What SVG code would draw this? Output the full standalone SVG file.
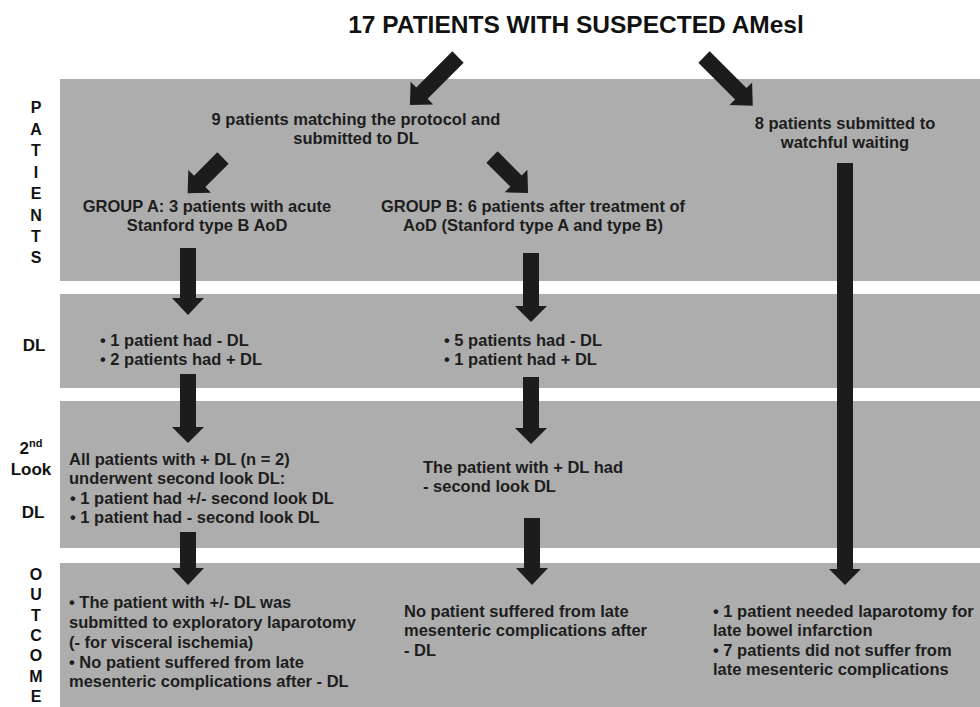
<svg xmlns="http://www.w3.org/2000/svg" width="980" height="707" viewBox="0 0 980 707">
<style>
.band{fill:#adadad}
.t{font-family:"Liberation Sans",Arial,Helvetica,sans-serif;font-weight:bold;font-size:16.5px;fill:#1d1d1d}
.c{text-anchor:middle}
.lab{font-family:"Liberation Sans",Arial,Helvetica,sans-serif;font-weight:bold;font-size:16px;fill:#111;text-anchor:middle}
.title{font-family:"Liberation Sans",Arial,Helvetica,sans-serif;font-weight:bold;font-size:24.5px;fill:#111;text-anchor:middle}
.arr{fill:#1c1c1c}
</style>
<rect width="980" height="707" fill="#ffffff"/>
<g id="bands">
<rect class="band" x="60" y="79" width="920" height="202"/>
<rect class="band" x="60" y="294" width="920" height="94"/>
<rect class="band" x="60" y="401" width="920" height="147"/>
<rect class="band" x="60" y="563" width="920" height="144"/>
</g>
<g id="row-labels">
<text class="lab" x="36"><tspan x="36" y="113">P</tspan><tspan x="36" y="135">A</tspan><tspan x="36" y="156">T</tspan><tspan x="36" y="178">I</tspan><tspan x="36" y="199">E</tspan><tspan x="36" y="221">N</tspan><tspan x="36" y="242">T</tspan><tspan x="36" y="263">S</tspan></text>
<text class="lab" x="34" y="351" style="font-size:17px">DL</text>
<text class="lab" x="31" y="454" style="font-size:17px">2<tspan font-size="11" dy="-7">nd</tspan></text>
<text class="lab" x="31" y="475" style="font-size:17px">Look</text>
<text class="lab" x="33" y="518" style="font-size:17px">DL</text>
<text class="lab" x="36"><tspan x="36" y="580">O</tspan><tspan x="36" y="600">U</tspan><tspan x="36" y="621">T</tspan><tspan x="36" y="641">C</tspan><tspan x="36" y="661">O</tspan><tspan x="36" y="682">M</tspan><tspan x="36" y="702">E</tspan></text>
</g>
<g id="title"><text class="title" x="576" y="33">17 PATIENTS WITH SUSPECTED AMesl</text></g>
<g id="protocol"><text class="t c" x="356"><tspan x="356" y="125">9 patients matching the protocol and</tspan><tspan x="356" y="144">submitted to DL</tspan></text></g>
<g id="watchful"><text class="t c" x="845"><tspan x="845" y="129">8 patients submitted to</tspan><tspan x="845" y="148">watchful waiting</tspan></text></g>
<g id="groupA"><text class="t c" x="207"><tspan x="207" y="212">GROUP A: 3 patients with acute</tspan><tspan x="207" y="231">Stanford type B AoD</tspan></text></g>
<g id="groupB"><text class="t c" x="533"><tspan x="533" y="212">GROUP B: 6 patients after treatment of</tspan><tspan x="533" y="231">AoD (Stanford type A and type B)</tspan></text></g>
<g id="dlA"><text class="t" x="100"><tspan x="100" y="346">• 1 patient had - DL</tspan><tspan x="100" y="365">• 2 patients had + DL</tspan></text></g>
<g id="dlB"><text class="t" x="444"><tspan x="444" y="346">• 5 patients had - DL</tspan><tspan x="444" y="365">• 1 patient had + DL</tspan></text></g>
<g id="secondA"><text class="t" x="69"><tspan x="69" y="465">All patients with + DL (n = 2)</tspan><tspan x="69" y="484">underwent second look DL:</tspan><tspan x="70" y="504">• 1 patient had +/- second look DL</tspan><tspan x="70" y="523">• 1 patient had - second look DL</tspan></text></g>
<g id="secondB"><text class="t" x="423"><tspan x="423" y="473">The patient with + DL had</tspan><tspan x="423" y="492">- second look DL</tspan></text></g>
<g id="outcomeA"><text class="t" x="69"><tspan x="69" y="608">• The patient with +/- DL was</tspan><tspan x="69" y="628">submitted to exploratory laparotomy</tspan><tspan x="69" y="648">(- for visceral ischemia)</tspan><tspan x="69" y="668">• No patient suffered from late</tspan><tspan x="69" y="687">mesenteric complications after - DL</tspan></text></g>
<g id="outcomeB"><text class="t" x="404"><tspan x="404" y="617">No patient suffered from late</tspan><tspan x="404" y="636">mesenteric complications after</tspan><tspan x="404" y="656">- DL</tspan></text></g>
<g id="outcomeW"><text class="t" x="713"><tspan x="713" y="617">• 1 patient needed laparotomy for</tspan><tspan x="713" y="636">late bowel infarction</tspan><tspan x="713" y="656">• 7 patients did not suffer from</tspan><tspan x="713" y="675">late mesenteric complications</tspan></text></g>
<g id="connectors">
<polygon class="arr" transform="translate(458,57) rotate(45)" points="-8,0 8,0 8,51 16,51 0,68 -16,51 -8,51"/>
<polygon class="arr" transform="translate(704,57) rotate(-45)" points="-8,0 8,0 8,52 16,52 0,69 -16,52 -8,52"/>
<polygon class="arr" transform="translate(223,158) rotate(45)" points="-8,0 8,0 8,33 16,33 0,50 -16,33 -8,33"/>
<polygon class="arr" transform="translate(492,157) rotate(-45)" points="-8,0 8,0 8,34 16,34 0,51 -16,34 -8,34"/>
<polygon class="arr" points="180,248 196,248 196,298 204,298 188,315 172,298 180,298"/>
<polygon class="arr" points="180,374 196,374 196,427 204,427 188,443 172,427 180,427"/>
<polygon class="arr" points="180,532 196,532 196,568 204,568 188,585 172,568 180,568"/>
<polygon class="arr" points="523,253 539,253 539,306 547,306 531,322 515,306 523,306"/>
<polygon class="arr" points="523,377 539,377 539,428 547,428 531,444 515,428 523,428"/>
<polygon class="arr" points="524,518 540,518 540,568 548,568 532,585 516,568 524,568"/>
<polygon class="arr" points="837,163 853,163 853,569 861,569 845,585 829,569 837,569"/>
</g>
</svg>
